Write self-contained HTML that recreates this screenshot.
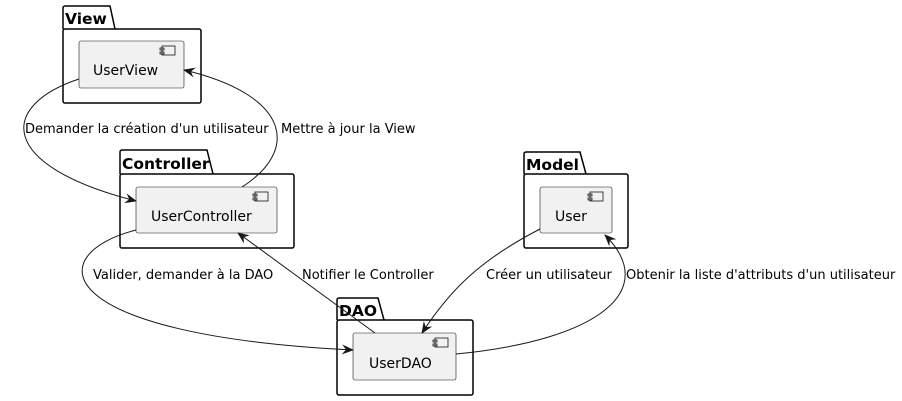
<!DOCTYPE html>
<html><head><meta charset="utf-8"><style>
html,body{margin:0;padding:0;background:#fff;}
svg{display:block;}
text{font-family:"DejaVu Sans",sans-serif;}
</style></head><body>
<svg width="902" height="401" viewBox="0 0 902 401" xmlns="http://www.w3.org/2000/svg">
<defs>
<marker id="a" viewBox="0 0 12 10" refX="11" refY="5" markerWidth="12" markerHeight="10" markerUnits="userSpaceOnUse" orient="auto">
<path d="M0,0 L12,5 L0,10 L4,5 Z" fill="#181818"/>
</marker>
</defs>
<g fill="none" stroke="#000" stroke-width="1.5">
<path d="M63,29 V8 a2,2 0 0 1 2,-2 H110 L115,29"/>
<rect x="63" y="29" width="138" height="74" rx="2"/>
<path d="M120,174 V152 a2,2 0 0 1 2,-2 H207 L213,174"/>
<rect x="120" y="174" width="174" height="74" rx="2"/>
<path d="M524,174 V154 a2,2 0 0 1 2,-2 H580 L586,174"/>
<rect x="524" y="174" width="104" height="74" rx="2"/>
<path d="M337,320 V300 a2,2 0 0 1 2,-2 H378 L384,320"/>
<rect x="337" y="320" width="136" height="75" rx="2"/>
</g>
<g font-weight="bold" font-size="15.5" fill="#000">
<text x="65" y="24">View</text>
<text x="122" y="169">Controller</text>
<text x="526" y="170">Model</text>
<text x="339" y="316">DAO</text>
</g>
<g fill="#f1f1f1" stroke="#181818" stroke-width="0.6">
<rect x="79" y="41" width="105" height="47" rx="2"/>
<rect x="136" y="187" width="141" height="46" rx="2"/>
<rect x="540" y="187" width="72" height="46" rx="2"/>
<rect x="353" y="333" width="103" height="47" rx="2"/>
</g>
<g fill="none" stroke="#181818" stroke-width="0.8">
<rect x="162" y="46" width="13" height="9"/><rect x="160" y="48" width="4" height="2"/><rect x="160" y="52" width="4" height="2"/>
<rect x="255" y="192" width="13" height="9"/><rect x="253" y="194" width="4" height="2"/><rect x="253" y="198" width="4" height="2"/>
<rect x="590" y="192" width="13" height="9"/><rect x="588" y="194" width="4" height="2"/><rect x="588" y="198" width="4" height="2"/>
<rect x="435" y="338" width="13" height="9"/><rect x="433" y="340" width="4" height="2"/><rect x="433" y="344" width="4" height="2"/>
</g>
<g font-size="14" fill="#000">
<text x="93" y="75">UserView</text>
<text x="151" y="221">UserController</text>
<text x="555" y="221">User</text>
<text x="369" y="368">UserDAO</text>
</g>
<g fill="none" stroke="#181818" stroke-width="1">
<path d="M79,79 C0,105 -5,165 136,201" marker-end="url(#a)"/>
<path d="M242,187 C300,150 290,95 184,70" marker-end="url(#a)"/>
<path d="M136,230 C40,255 50,335 353,350" marker-end="url(#a)"/>
<path d="M375,333 L238,233" marker-end="url(#a)"/>
<path d="M540,229 C480,260 450,290 422,333" marker-end="url(#a)"/>
<path d="M456,354 C600,340 660,290 605,235" marker-end="url(#a)"/>
</g>
<g font-size="13" fill="#000">
<text x="25" y="133">Demander la création d'un utilisateur</text>
<text x="281" y="133">Mettre à jour la View</text>
<text x="93" y="279">Valider, demander à la DAO</text>
<text x="302" y="279">Notifier le Controller</text>
<text x="486" y="279">Créer un utilisateur</text>
<text x="626" y="279">Obtenir la liste d'attributs d'un utilisateur</text>
</g>
</svg>
</body></html>
